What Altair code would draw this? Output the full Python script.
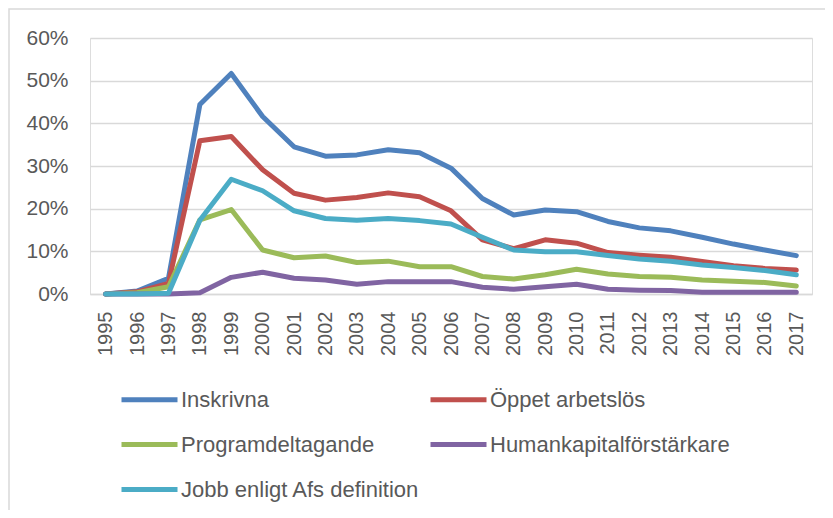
import altair as alt
import pandas as pd

years = [str(y) for y in range(1995, 2018)]

series_names = [
    "Inskrivna",
    "Öppet arbetslös",
    "Programdeltagande",
    "Humankapitalförstärkare",
    "Jobb enligt Afs definition",
]
colors = ["#4F81BD", "#C0504D", "#9BBB59", "#8064A2", "#4BACC6"]

inskrivna = [0.0, 0.7, 3.7, 44.4, 51.7, 41.6, 34.5, 32.3, 32.6, 33.8, 33.1, 29.5, 22.4,
             18.5, 19.7, 19.3, 17.0, 15.5, 14.8, 13.3, 11.7, 10.3, 9.0]
oppet = [0.0, 0.5, 2.5, 35.9, 36.9, 29.1, 23.6, 22.0, 22.6, 23.7, 22.8, 19.5, 12.7,
         10.6, 12.7, 11.9, 9.7, 9.1, 8.6, 7.6, 6.6, 6.0, 5.6]
program = [0.0, 0.3, 1.7, 17.4, 19.8, 10.3, 8.5, 8.9, 7.4, 7.7, 6.4, 6.4, 4.1,
           3.5, 4.5, 5.8, 4.7, 4.1, 3.9, 3.3, 3.0, 2.7, 1.9]
human = [0.0, 0.0, 0.0, 0.3, 3.9, 5.1, 3.7, 3.3, 2.3, 2.9, 2.9, 2.9, 1.6,
         1.1, 1.7, 2.3, 1.1, 0.9, 0.8, 0.4, 0.4, 0.4, 0.4]
jobb = [0.0, 0.0, 0.2, 17.3, 26.9, 24.2, 19.5, 17.7, 17.3, 17.7, 17.2, 16.4, 13.3,
        10.3, 9.9, 9.9, 9.0, 8.2, 7.7, 6.8, 6.2, 5.5, 4.5]

y_ticks = [0, 0.1, 0.2, 0.3, 0.4, 0.5, 0.6]

rows = []
for order, (name, vals) in enumerate(zip(series_names, [inskrivna, oppet, program, human, jobb])):
    for yr, v in zip(years, vals):
        rows.append({"År": yr, "Serie": name, "Andel": v / 100.0, "ordning": order})
df = pd.DataFrame(rows)

FONT = "Liberation Sans"
TXT = "#595959"
GRID = "#D9D9D9"

lines = alt.Chart(df).mark_line(strokeWidth=5, strokeCap="round", strokeJoin="round").encode(
    x=alt.X("År:O", sort=years,
            scale=alt.Scale(type="point", padding=0.5),
            axis=alt.Axis(title=None, labelAngle=-90, ticks=False, labelPadding=17,
                          domainColor=GRID, domainWidth=1.5, grid=False,
                          labelFont=FONT, labelFontSize=20, labelColor=TXT)),
    y=alt.Y("Andel:Q",
            scale=alt.Scale(domain=[0, 0.6], nice=False),
            axis=alt.Axis(title=None, values=y_ticks, format=".0%", ticks=False,
                          domain=False, gridColor=GRID, gridWidth=1.5,
                          labelPadding=22, labelFont=FONT, labelFontSize=21,
                          labelColor=TXT)),
    color=alt.Color("Serie:N",
                    scale=alt.Scale(domain=series_names, range=colors),
                    legend=alt.Legend(title=None, orient="none", legendX=29, legendY=331,
                                      direction="horizontal", columns=2,
                                      symbolType="stroke", symbolSize=3136,
                                      symbolStrokeWidth=5, labelOffset=1,
                                      columnPadding=0, rowPadding=3,
                                      labelFont=FONT, labelFontSize=22,
                                      labelColor=TXT, labelLimit=400)),
    order=alt.Order("ordning:Q"),
    detail="Serie:N",
)

frame = alt.Chart(pd.DataFrame({"a": [0]})).mark_rect(
    fill=None, stroke=GRID, strokeWidth=1.5
).encode(
    x=alt.value(-81), x2=alt.value(760), y=alt.value(-29), y2=alt.value(520)
)

chart = alt.layer(frame, lines).properties(
    width=722, height=256,
    autosize=alt.AutoSizeParams(type="none"),
    padding={"left": 82, "top": 30, "right": 13, "bottom": 216},
).configure_view(stroke=None).configure(background="white")

chart.save("out.html", embed_options={"renderer": "svg", "actions": False})
